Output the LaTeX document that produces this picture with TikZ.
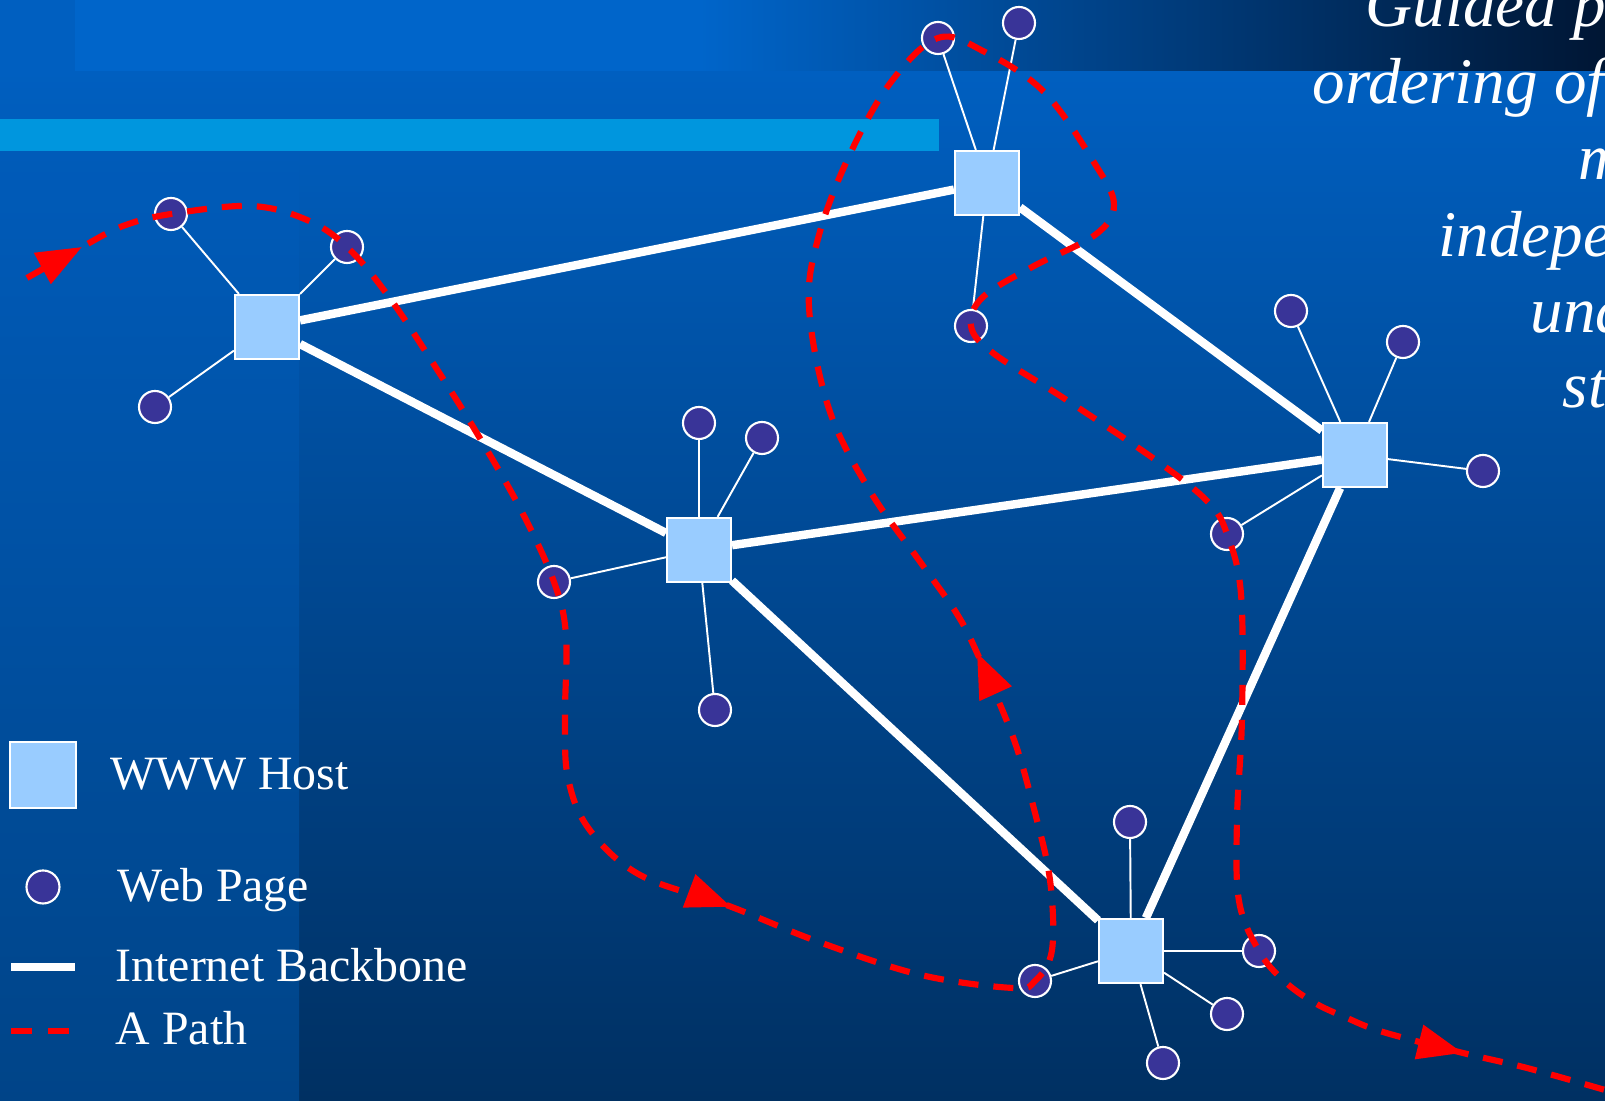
\documentclass[tikz,border=0pt]{standalone}
\usepackage{fontspec}
\setmainfont{Liberation Serif}
\usetikzlibrary{arrows.meta,positioning,backgrounds,decorations.markings}
\definecolor{hostblue}{HTML}{99CCFF}
\definecolor{pagepurple}{RGB}{57,52,152}
\definecolor{bgtop}{RGB}{0,95,192}
\definecolor{bgbottom}{RGB}{0,48,98}
\definecolor{sidetop}{RGB}{0,91,185}
\definecolor{sidebottom}{RGB}{0,68,136}
\definecolor{stripleft}{RGB}{0,101,202}
\definecolor{stripright}{RGB}{0,22,52}
\definecolor{barcyan}{RGB}{0,150,222}
\tikzset{redtip/.tip={Triangle[length=4.5mm,width=3.4mm]}}

\begin{document}
\begin{tikzpicture}[
  x=0.01cm, y=-0.01cm,
  >=Latex,
  host/.style={draw=white, line width=0.6pt, fill=hostblue, minimum size=6.4mm, inner sep=0pt},
  page/.style={circle, draw=white, line width=0.6pt, fill=pagepurple, minimum size=3.2mm, inner sep=0pt},
  bone/.style={white, line width=2.4pt},
  spoke/.style={white, line width=0.55pt},
  apath/.style={red, line width=1.75pt, dash pattern=on 2mm off 1.5mm},
  lbl/.style={text=white, font=\fontsize{13.6}{16}\selectfont, inner sep=0pt, anchor=base west},
  note/.style={text=white, font=\fontsize{18.5}{21}\selectfont\itshape, inner sep=0pt, anchor=base west}]

\useasboundingbox (0,0) rectangle (1605,1101);

% hosts
\node[host] (hA) at (267,327) {};
\node[host] (hB) at (699,550) {};
\node[host] (hC) at (987,183) {};
\node[host] (hD) at (1355,455) {};
\node[host] (hE) at (1131,951) {};

% pages
\node[page] (a1) at (171,214) {};
\node[page] (a2) at (347,247) {};
\node[page] (a3) at (155,407) {};
\node[page] (b1) at (699,423) {};
\node[page] (b2) at (762,438) {};
\node[page] (b3) at (554,582) {};
\node[page] (b4) at (715,710) {};
\node[page] (c1) at (938,38) {};
\node[page] (c2) at (1019,23) {};
\node[page] (c3) at (971,326) {};
\node[page] (d1) at (1291,311) {};
\node[page] (d2) at (1403,342) {};
\node[page] (d3) at (1483,471) {};
\node[page] (d4) at (1227,534) {};
\node[page] (e1) at (1130,822) {};
\node[page] (e2) at (1259,951) {};
\node[page] (e3) at (1227,1014) {};
\node[page] (e4) at (1163,1063) {};
\node[page] (e5) at (1035,981) {};

\begin{scope}[on background layer]
  \shade[top color=bgtop, bottom color=bgbottom] (0,71) rectangle (1605,1101);
  \shade[top color=sidetop, bottom color=sidebottom] (0,151) rectangle (299,1101);
  \fill[bgtop] (0,0) rectangle (75,71);
  \fill[stripleft] (75,0) rectangle (700,71);
  \shade[left color=stripleft, right color=stripright] (700,0) rectangle (1605,71);
  \fill[barcyan] (0,119) rectangle (939,151);

  \draw[bone] (hA) -- (hC);
  \draw[bone] (hA) -- (hB);
  \draw[bone] (hB) -- (hD);
  \draw[bone] (hC) -- (hD);
  \draw[bone] (hB) -- (hE);
  \draw[bone] (hD) -- (hE);

  \foreach \p in {a1,a2,a3} \draw[spoke] (hA) -- (\p);
  \foreach \p in {b1,b2,b3,b4} \draw[spoke] (hB) -- (\p);
  \foreach \p in {c1,c2,c3} \draw[spoke] (hC) -- (\p);
  \foreach \p in {d1,d2,d3,d4} \draw[spoke] (hD) -- (\p);
  \foreach \p in {e1,e2,e3,e4,e5} \draw[spoke] (hE) -- (\p);
\end{scope}

% legend
\node[host, minimum size=6.6mm] (kHost) at (43,775) {};
\node[lbl] (tHost) at (110,790) {WWW Host};
\node[page, minimum size=3.3mm] (kPage) at (43,887) {};
\node[lbl] (tPage) at (117,902) {Web Page};
\coordinate (kBoneA) at (11,967);
\coordinate (kBoneB) at (75,967);
\draw[bone] (kBoneA) -- (kBoneB);
\node[lbl] (tBone) at (115,982) {Internet Backbone};
\coordinate (kPathA) at (11,1031);
\coordinate (kPathB) at (70,1031);
\draw[apath, dash pattern=on 2.1mm off 1.6mm] (kPathA) -- (kPathB);
\node[lbl] (tPath) at (115,1045) {A Path};

% the path through the pages
\draw[apath, postaction={decorate}, decoration={markings,
    mark=at position 6.3mm with {\arrow{redtip}},
    mark=at position 11.6cm with {\arrow{redtip}},
    mark=at position 18.25cm with {\arrow{redtip}},
    mark=at position -1.47cm with {\arrow{redtip}}}]
  plot[smooth, tension=0.6] coordinates {
    (27,278) (82,247) (123,226) (a1.center) (251,206) (307,220) (a2.center)
    (389,297) (440,374) (481,440) (522,512) (b3.center) (566,635) (565,717)
    (568,778) (589,829) (640,875) (729,906) (819,942) (921,975) (1013,988)
    (e5.center) (1052,950) (1050,880) (1034,809) (1013,737) (978,655)
    (957,614) (921,563) (870,491) (829,409) (809,307) (819,235) (850,154)
    (891,82) (c1.center) (983,51) (1044,92) (1095,164) (1114,205) (1095,235)
    (1034,266) (983,297) (c3.center) (993,353) (1065,399) (1157,461)
    (1208,502) (d4.center) (1241,594) (1242,717) (1237,819) (1239,901)
    (e2.center) (1283,980) (1313,1002) (1347,1018) (1383,1032) (1463,1053)
    (1527,1068) (1605,1090)};

% text at the right edge
\node[note] (n1) at (1365,27) {Guided p};
\node[note] (n2) at (1312,104) {ordering of};
\node[note] (n3) at (1578,180) {m};
\node[note] (n4) at (1438,257) {indepe};
\node[note] (n5) at (1530,333) {und};
\node[note] (n6) at (1562,408) {st};

\end{tikzpicture}
\end{document}
